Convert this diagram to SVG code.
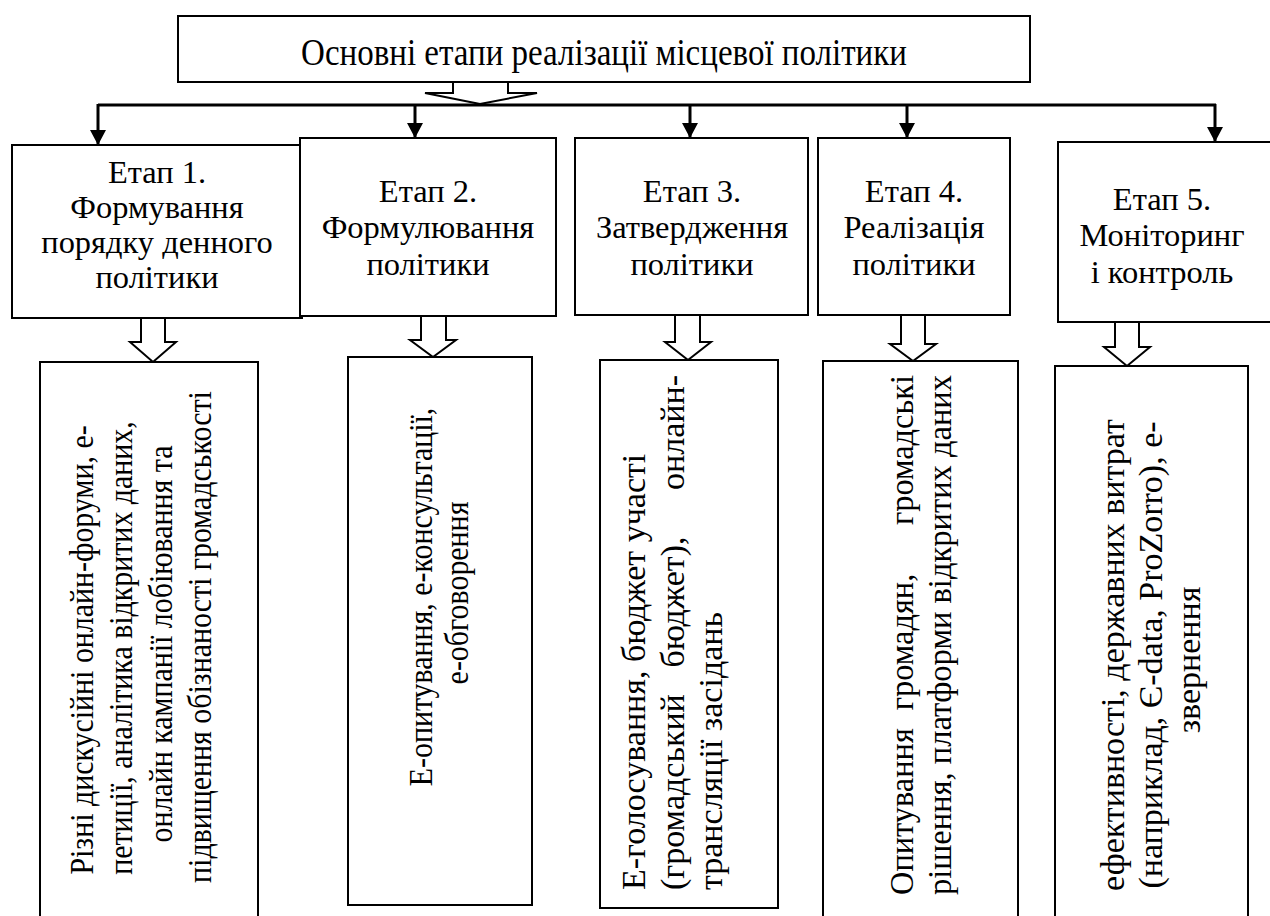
<svg xmlns="http://www.w3.org/2000/svg" width="1270" height="916" viewBox="0 0 1270 916">
<style>
.box{fill:#fff;stroke:#000;stroke-width:2}
.hol{fill:#fff;stroke:#000;stroke-width:2;stroke-linejoin:miter}
.ln{fill:none;stroke:#000;stroke-width:3}
.txt{font-family:"Liberation Serif","Times New Roman",serif;fill:#000}
.t{font-size:37.5px;text-anchor:middle}
.s1{font-size:31.5px;text-anchor:middle}
.s{font-size:32.5px;text-anchor:middle}
.b{font-size:34px;text-anchor:middle}
.bs{font-size:34px;text-anchor:start}
.be{font-size:34px;text-anchor:end}
</style>
<defs>
<marker id="ah" markerWidth="16" markerHeight="16" refX="15" refY="8" orient="auto" markerUnits="userSpaceOnUse">
<path d="M0,0 L15,8 L0,16 Z" fill="#000"/>
</marker>
</defs>
<rect width="1270" height="916" fill="#fff"/>

<g id="connectors">
<path class="ln" d="M98,105 H1216"/>
<path class="ln" d="M98,104 V145" marker-end="url(#ah)"/>
<path class="ln" d="M415,104 V138" marker-end="url(#ah)"/>
<path class="ln" d="M690,104 V138" marker-end="url(#ah)"/>
<path class="ln" d="M907,104 V138" marker-end="url(#ah)"/>
<path class="ln" d="M1215,104 V142" marker-end="url(#ah)"/>
<path class="hol" d="M453,82 V93 H425 L480,104 L537,93 H508 V82"/>
<path class="hol" d="M141,318 V342 H130 L153,362 L176,342 H165 V318"/>
<path class="hol" d="M421,316 V340 H410 L433,357 L456,340 H446 V316"/>
<path class="hol" d="M675,315 V342 H665 L688,360 L711,342 H700 V315"/>
<path class="hol" d="M901,315 V344 H890 L913,361 L936,344 H925 V315"/>
<path class="hol" d="M1115,322 V347 H1104 L1127,366 L1150,347 H1139 V322"/>
</g>

<g class="txt">
<g id="title">
<rect class="box" x="178" y="16" width="852" height="66"/>
<text class="t" transform="translate(604,65) scale(0.88,1)">Основні етапи реалізації місцевої політики</text>
</g>

<g id="stage1">
<rect class="box" x="12" y="145" width="290" height="173"/>
<text class="s1" transform="translate(157,183) scale(1.03,1)">Етап 1.</text>
<text class="s1" transform="translate(157,218) scale(1.03,1)">Формування</text>
<text class="s1" transform="translate(157,253) scale(1.03,1)">порядку денного</text>
<text class="s1" transform="translate(157,288) scale(1.03,1)">політики</text>
</g>
<g id="stage2">
<rect class="box" x="300" y="138" width="256" height="178"/>
<text class="s" x="428" y="202">Етап 2.</text>
<text class="s" x="428" y="238">Формулювання</text>
<text class="s" x="428" y="275">політики</text>
</g>
<g id="stage3">
<rect class="box" x="575" y="138" width="233" height="177"/>
<text class="s" x="692" y="202">Етап 3.</text>
<text class="s" x="692" y="238">Затвердження</text>
<text class="s" x="692" y="275">політики</text>
</g>
<g id="stage4">
<rect class="box" x="818" y="138" width="192" height="177"/>
<text class="s" x="914" y="202">Етап 4.</text>
<text class="s" x="914" y="238">Реалізація</text>
<text class="s" x="914" y="275">політики</text>
</g>
<g id="stage5">
<rect class="box" x="1058" y="142" width="220" height="180"/>
<text class="s" x="1162" y="210">Етап 5.</text>
<text class="s" x="1162" y="246">Моніторинг</text>
<text class="s" x="1162" y="283">і контроль</text>
</g>

<g id="tools1">
<rect class="box" x="40" y="362" width="218" height="570"/>
<text class="b" transform="translate(93,650) rotate(-90) scale(0.88,1)">Різні дискусійні онлайн-форуми, е-</text>
<text class="b" transform="translate(132,648) rotate(-90) scale(0.88,1)">петиції, аналітика відкритих даних,</text>
<text class="b" transform="translate(172,644) rotate(-90) scale(0.88,1)">онлайн кампанії лобіювання та</text>
<text class="b" transform="translate(211,637) rotate(-90) scale(0.88,1)">підвищення обізнаності громадськості</text>
</g>
<g id="tools2">
<rect class="box" x="348" y="357" width="184" height="548"/>
<text class="b" transform="translate(432,597) rotate(-90) scale(0.88,1)">Е-опитування, е-консультації,</text>
<text class="b" transform="translate(468,593) rotate(-90) scale(0.88,1)">е-обговорення</text>
</g>
<g id="tools3">
<rect class="box" x="600" y="360" width="178" height="548"/>
<text class="bs" transform="translate(645,890) rotate(-90)">Е-голосування, бюджет участі</text>
<text class="bs" transform="translate(684,890) rotate(-90)">(громадський</text>
<text class="b" transform="translate(684,602) rotate(-90)">бюджет),</text>
<text class="be" transform="translate(684,375) rotate(-90)">онлайн-</text>
<text class="bs" transform="translate(722,890) rotate(-90)">трансляції засідань</text>
</g>
<g id="tools4">
<rect class="box" x="823" y="361" width="195" height="570"/>
<text class="bs" transform="translate(913,895) rotate(-90) scale(0.953,1)">Опитування</text>
<text class="b" transform="translate(913,642) rotate(-90) scale(0.953,1)">громадян,</text>
<text class="be" transform="translate(913,375) rotate(-90) scale(0.953,1)">громадські</text>
<text class="bs" transform="translate(951,895) rotate(-90)" textLength="520" lengthAdjust="spacingAndGlyphs">рішення, платформи відкритих даних</text>
</g>
<g id="tools5">
<rect class="box" x="1055" y="366" width="193" height="565"/>
<text class="b" transform="translate(1124,655) rotate(-90)">ефективності, державних витрат</text>
<text class="b" transform="translate(1162,655) rotate(-90)">(наприклад, Є-data, ProZorro), е-</text>
<text class="b" transform="translate(1200,660) rotate(-90)">звернення</text>
</g>
</g>
</svg>
